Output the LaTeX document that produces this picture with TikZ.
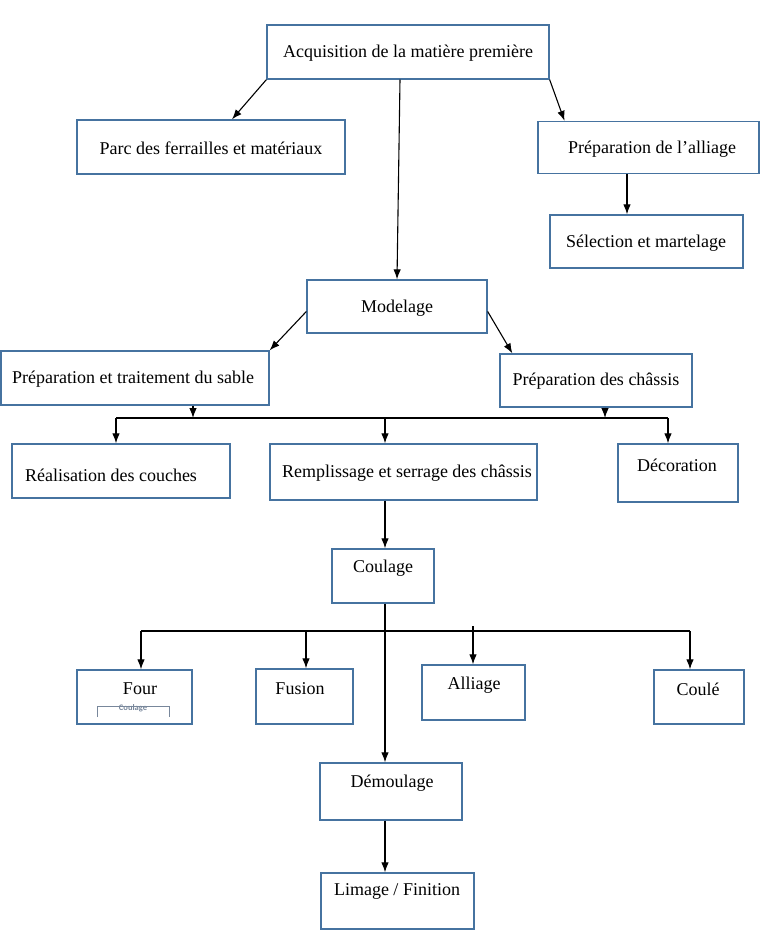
\documentclass[tikz,border=0pt]{standalone}
\usepackage{fontspec}
\setmainfont{Liberation Serif}
\newfontfamily\smallsans{Carlito}
\usetikzlibrary{arrows.meta,calc}
\definecolor{boxblue}{RGB}{70,115,160}
\definecolor{greyblue}{RGB}{120,135,155}
\tikzset{
  box/.style={draw=boxblue,line width=1.3pt,inner sep=0pt,rectangle},
  lbl/.style={font=\fontsize{18}{20}\selectfont,inner sep=0pt},
  arr/.style={line width=1.1pt,-{Latex[length=10pt,width=7.5pt]}},
  ln/.style={line width=1.1pt}
}
\begin{document}
\begin{tikzpicture}[x=1pt,y=-1pt]
\useasboundingbox (0,0) rectangle (761,943);
% boxes
\node[box,minimum width=282pt,minimum height=54pt] (acq) at (408,52) {};
\node[lbl] at (408,53) {Acquisition de la matière première};
\node[box,minimum width=268pt,minimum height=54pt] (parc) at (211,147) {};
\node[lbl] at (211,148) {Parc des ferrailles et matériaux};
\node[box,minimum width=221pt,minimum height=52pt] (prepall) at (648.5,147.5) {};
\node[lbl] at (652,149) {Préparation de l’alliage};
\node[box,minimum width=193pt,minimum height=53pt] (sel) at (646.5,241.5) {};
\node[lbl] at (646,243) {Sélection et martelage};
\node[box,minimum width=180pt,minimum height=53pt] (mod) at (397,306.5) {};
\node[lbl] at (397,308) {Modelage};
\node[box,minimum width=268pt,minimum height=54pt] (sable) at (135,378) {};
\node[lbl] at (133,379) {Préparation et traitement du sable};
\node[box,minimum width=192pt,minimum height=53pt] (chassis) at (596,380.5) {};
\node[lbl] at (596,381) {Préparation des châssis};
\node[box,minimum width=218pt,minimum height=54pt] (real) at (121,471) {};
\node[lbl] at (111,475) {Réalisation des couches};
\node[box,minimum width=267pt,minimum height=56pt] (remp) at (403.5,472) {};
\node[lbl] at (407,473) {Remplissage et serrage des châssis};
\node[box,minimum width=120pt,minimum height=58pt] (deco) at (678,473) {};
\node[lbl] at (677,465) {Décoration};
\node[box,minimum width=102pt,minimum height=54pt] (coul) at (383,576) {};
\node[lbl] at (383,568) {Coulage};
\node[box,minimum width=115pt,minimum height=54pt] (four) at (134.5,697) {};
\node[lbl] at (140,689) {Four};
\node[box,minimum width=97pt,minimum height=55pt] (fusion) at (304.5,696.5) {};
\node[lbl] at (300,689) {Fusion};
\node[box,minimum width=103pt,minimum height=55pt] (alliage) at (473.5,692.5) {};
\node[lbl] at (474,685) {Alliage};
\node[box,minimum width=90pt,minimum height=54pt] (coule) at (699,697) {};
\node[lbl] at (698,689) {Coulé};
\node[box,minimum width=142pt,minimum height=57pt] (dem) at (391,791.5) {};
\node[lbl] at (392,783) {Démoulage};
\node[box,minimum width=153pt,minimum height=56pt] (lim) at (397.5,901) {};
\node[lbl] at (397,891) {Limage / Finition};
% small inner bracket in Four
\node[text=greyblue,font=\smallsans\fontsize{8.5}{9}\selectfont\bfseries,inner sep=0pt] (tiny) at (133,708) {Coulage};
\draw[greyblue,line width=0.7pt] (97,717) -- (97,706) -- (169,706) -- (169,717);
% connectors from acquisition
\draw[arr] (acq.south west) -- ([xshift=21pt]parc.north);
\draw[arr] ([xshift=-8pt]acq.south) -- (mod.north);
\draw[arr] (acq.south east) -- ([xshift=-84pt]prepall.north);
\draw[arr] ([xshift=-21.5pt]prepall.south) -- ([xshift=-19.5pt]sel.north);
% from modelage
\draw[arr] ([yshift=-5pt]mod.west) -- (sable.north east);
\draw[arr] ([yshift=-5pt]mod.east) -- ([xshift=13pt]chassis.north west);
% first bus
\coordinate (busL) at (116,418);
\coordinate (busM) at (385,418);
\coordinate (busR) at (668,418);
\draw[ln] (busL) -- (busR);
\draw[arr] ([xshift=58pt]sable.south) -- ([xshift=58pt]sable.south |- busL);
\draw[arr] ([xshift=9pt]chassis.south) -- ([xshift=9pt]chassis.south |- busR);
\draw[arr] (busL) -- (busL |- real.north);
\draw[arr] (busM) -- (busM |- remp.north);
\draw[arr] (busR) -- (busR |- deco.north);
% remplissage to coulage
\draw[arr] (busM |- remp.south) -- (busM |- coul.north);
% second bus
\coordinate (bbL) at (141,631);
\coordinate (bbF) at (306,631);
\coordinate (bbA) at (473,626);
\coordinate (bbR) at (690,631);
\draw[ln] (bbL) -- (bbR);
\draw[arr] (bbL) -- (bbL |- four.north);
\draw[arr] (bbF) -- (bbF |- fusion.north);
\draw[arr] (bbA) -- (bbA |- alliage.north);
\draw[arr] (bbR) -- (bbR |- coule.north);
% coulage to demoulage to limage
\draw[arr] (busM |- coul.south) -- (busM |- dem.north);
\draw[arr] (busM |- dem.south) -- (busM |- lim.north);
\end{tikzpicture}
\end{document}
